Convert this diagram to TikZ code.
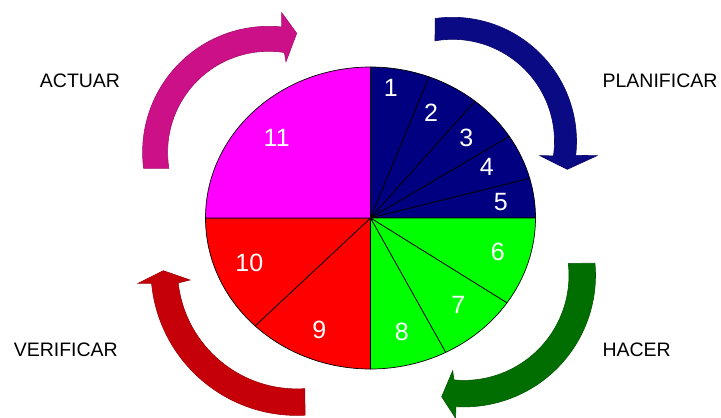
\documentclass[tikz,border=0pt]{standalone}
\usepackage{fontspec}
\setmainfont{Liberation Sans}
\usetikzlibrary{calc}
\definecolor{pieBlue}{RGB}{0,0,128}
\definecolor{pieGreen}{RGB}{0,255,0}
\definecolor{pieRed}{RGB}{255,0,0}
\definecolor{pieMag}{RGB}{255,0,255}
\definecolor{arrBlue}{RGB}{10,10,132}
\definecolor{arrGreen}{RGB}{0,110,0}
\definecolor{arrRed}{RGB}{198,0,8}
\definecolor{arrMag}{RGB}{204,17,136}
\tikzset{
  slice/.style={draw=black, line width=0.7pt, line join=round},
  bigarrow/.style={line width=0.6pt, line join=miter},
  num/.style={text=white, font=\fontsize{25}{25}\selectfont, inner sep=0pt, anchor=center},
  phase/.style={text=black, font=\fontsize{19.5}{20}\selectfont, inner sep=0pt, anchor=center}
}
\newcommand{\pieslice}[3]{%
  \filldraw[slice, fill=#3] (C) -- ($(C)+(#1:165 and 151)$) arc[start angle=#1, end angle=#2, x radius=165, y radius=151] -- cycle;}
\begin{document}
\begin{tikzpicture}[x=1pt,y=-1pt]
\useasboundingbox (0,0) rectangle (721,418);
\fill[white] (0,0) rectangle (721,418);
\coordinate (C) at (370.5,218);
% pie slices (pixel angles, y downward)
\pieslice{-90}{-69.2}{pieBlue}
\pieslice{-69.2}{-50.7}{pieBlue}
\pieslice{-50.7}{-32.7}{pieBlue}
\pieslice{-32.7}{-15.2}{pieBlue}
\pieslice{-15.2}{0}{pieBlue}
\pieslice{0}{34.2}{pieGreen}
\pieslice{34.2}{62.9}{pieGreen}
\pieslice{62.9}{90}{pieGreen}
\pieslice{90}{134.4}{pieRed}
\pieslice{134.4}{180}{pieRed}
\pieslice{180}{270}{pieMag}
% numbers
\node[num] (n1) at (390.7,88.3) {1};
\node[num] (n2) at (431,112.5) {2};
\node[num] (n3) at (466.2,138.3) {3};
\node[num] (n4) at (486.7,166.7) {4};
\node[num] (n5) at (500.8,201.7) {5};
\node[num] (n6) at (497.7,252.3) {6};
\node[num] (n7) at (458.3,305) {7};
\node[num] (n8) at (401.7,331.7) {8};
\node[num] (n9) at (319.3,330) {9};
\node[num] (n10) at (249.3,263.3) {10};
\node[num] (n11) at (276.7,138.3) {11};
% curved arrows
\coordinate (M) at (268.6,152.3);
\filldraw[bigarrow, fill=arrMag, draw=arrMag!80!black]
  ($(M)+(172.7:126)$) arc[start angle=172.7, end angle=276, radius=126]
  -- (281.7,12.7) -- (296.7,33.3) -- (286,61.7)
  -- ($(M)+(279:101)$) arc[start angle=279, end angle=170.8, radius=101] -- cycle;
\coordinate (B) at (452.5,141.3);
\filldraw[bigarrow, fill=arrBlue, draw=arrBlue!80!black]
  ($(B)+(262:124)$) arc[start angle=262, end angle=366.5, radius=124]
  -- (597,155.7) -- (567.3,169.3) -- (540,155.7)
  -- ($(B)+(368.2:102)$) arc[start angle=368.2, end angle=260.1, radius=102] -- cycle;
\coordinate (G) at (464,275.4);
\filldraw[bigarrow, fill=arrGreen, draw=arrGreen!80!black]
  ($(G)+(-5.3:131.5)$) arc[start angle=-5.3, end angle=93.5, radius=131.5]
  -- (455.5,418) -- (441.7,396.7) -- (452.7,370.7)
  -- ($(G)+(95.5:105)$) arc[start angle=95.5, end angle=-6.6, radius=105] -- cycle;
\coordinate (R) at (296.9,269.4);
\filldraw[bigarrow, fill=arrRed, draw=arrRed!80!black]
  ($(R)+(86.8:146)$) arc[start angle=86.8, end angle=174.5, radius=146]
  -- (138.3,283.3) -- (163.3,270.7) -- (190,280)
  -- ($(R)+(173.5:119.5)$) arc[start angle=173.5, end angle=86.2, radius=119.5] -- cycle;
% phase labels
\node[phase] (act) at (80,80.5) {ACTUAR};
\node[phase] (plan) at (660,80.5) {PLANIFICAR};
\node[phase] (ver) at (65.8,350) {VERIFICAR};
\node[phase] (hac) at (636.7,350) {HACER};
\end{tikzpicture}
\end{document}
